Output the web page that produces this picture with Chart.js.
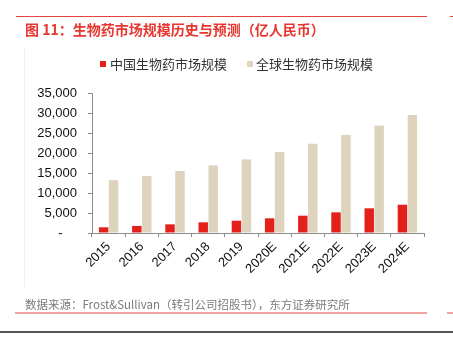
<!DOCTYPE html>
<html lang="zh">
<head>
<meta charset="UTF-8">
<title>生物药市场规模历史与预测</title>
<script src="https://cdn.jsdelivr.net/npm/chart.js"></script>
<style>
  html, body { margin: 0; padding: 0; background: #fff; }
  #wrap { position: relative; width: 453px; height: 337px; }
</style>
</head>
<body>
<div id="wrap"><canvas id="c" width="453" height="337"></canvas></div>
<script>
// data (亿人民币)
const years = ['2015', '2016', '2017', '2018', '2019', '2020E', '2021E', '2022E', '2023E', '2024E'];
const chinaMarket = [1420, 1760, 2170, 2670, 3080, 3670, 4330, 5170, 6170, 7080];
const globalMarket = [13200, 14250, 15500, 16900, 18400, 20250, 22330, 24500, 26900, 29500];
const seriesNames = ['中国生物药市场规模', '全球生物药市场规模'];

const FONT = '"Liberation Sans", "Noto Sans CJK SC", sans-serif';
const CJK = '"Noto Sans CJK SC", "Liberation Sans", sans-serif';

// title, legend, source note and page rules
const decor = {
  id: 'decor',
  afterDraw(chart) {
    const c = chart.ctx;
    c.save();
    // top red rule
    c.fillStyle = '#e5453f';
    c.fillRect(16, 16, 411, 1);
    c.fillRect(450, 16, 3, 1);
    // title
    c.fillStyle = '#e8352e';
    c.font = 'bold 14px ' + CJK;
    c.textBaseline = 'middle';
    c.fillText('图 11：生物药市场规模历史与预测（亿人民币）', 25, 30);
    // faint frame line
    c.fillStyle = '#eeeeee';
    c.fillRect(24, 47, 1, 240);
    // legend
    c.font = '13px ' + CJK;
    const items = [[100, 110], [247, 256]];
    chart.data.datasets.forEach((ds, i) => {
      c.fillStyle = ds.backgroundColor;
      c.fillRect(items[i][0], 61, 6, 6);
      c.fillStyle = '#333';
      c.fillText(ds.label, items[i][1], 64);
    });
    // source
    c.fillStyle = '#7a7a7a';
    c.font = '11.5px ' + CJK;
    c.fillText('数据来源：Frost&Sullivan（转引公司招股书），东方证券研究所', 25, 305);
    c.fillStyle = '#f2a3a0';
    c.fillRect(15, 312, 412, 2);
    c.fillRect(447, 312, 6, 2);
    c.fillStyle = '#555';
    c.fillRect(0, 331, 453, 2);
    c.restore();
  }
};

new Chart(document.getElementById('c'), {
  type: 'bar',
  data: {
    labels: years,
    datasets: [
      { label: seriesNames[0], data: chinaMarket, backgroundColor: '#e4201b' },
      { label: seriesNames[1], data: globalMarket, backgroundColor: '#ded4bd' }
    ]
  },
  options: {
    responsive: false,
    animation: false,
    devicePixelRatio: 1,
    datasets: { bar: { categoryPercentage: 0.6, barPercentage: 0.95 } },
    layout: { padding: { top: 93, right: 29, left: 0, bottom: 0 } },
    plugins: { legend: { display: false }, title: { display: false }, tooltip: { enabled: false } },
    scales: {
      x: {
        afterFit(s) { s.height = 104; },
        grid: { display: true, drawOnChartArea: false, drawTicks: true, tickLength: 4, color: '#8c8c8c' },
        border: { color: '#8c8c8c' },
        ticks: { color: '#111', font: { family: FONT, size: 13 }, minRotation: 45, maxRotation: 45, padding: 2 }
      },
      y: {
        min: 0, max: 35000,
        afterFit(s) { s.width = 92; },
        grid: { display: true, drawOnChartArea: false, drawTicks: true, tickLength: 4, color: '#8c8c8c' },
        border: { color: '#8c8c8c' },
        ticks: {
          stepSize: 5000,
          color: '#111',
          padding: 11,
          font: { family: FONT, size: 13 },
          callback: v => v === 0 ? '-    ' : v.toLocaleString('en-US')
        }
      }
    }
  },
  plugins: [decor]
});
</script>
</body>
</html>
